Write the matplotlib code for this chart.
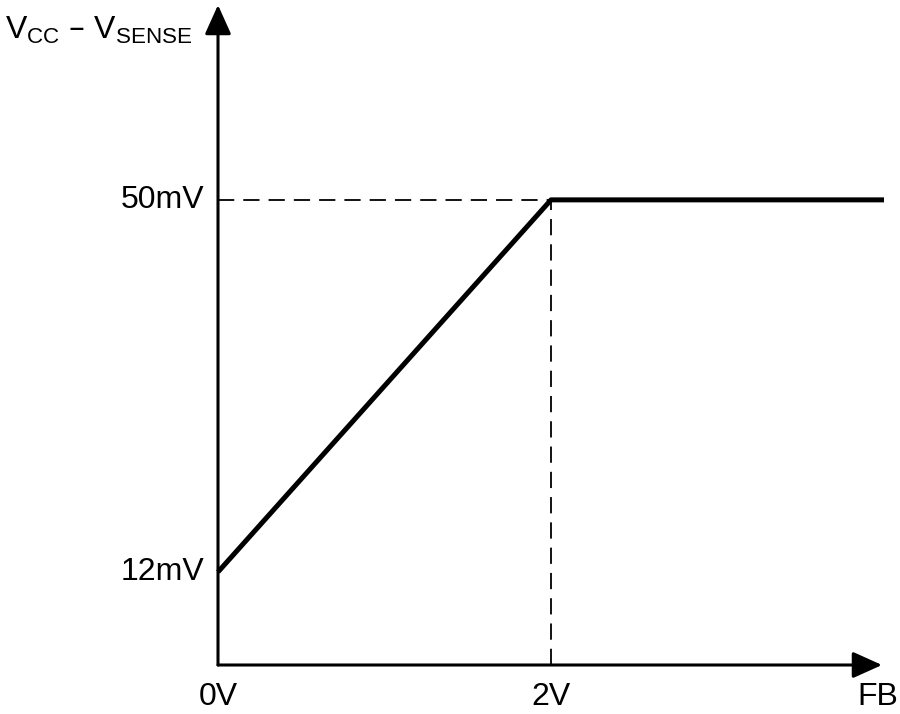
import matplotlib
matplotlib.use('Agg')
import matplotlib.pyplot as plt

plt.rcParams['font.family'] = ['Liberation Sans', 'DejaVu Sans']

# transfer curve (schematic)
fb_volts = [0, 2, 4]
sense_mv = [12, 50, 50]
x_ticks = [0, 2]
x_labels = ['0V', '2V']
y_ticks = [12, 50]
y_labels = ['12mV', '50mV']

fig = plt.figure(figsize=(9, 7.14), dpi=100)
ax = fig.add_axes([218/900, 49/714, 666/900, 660/714])
ax.set_xlim(0, 4)
ax.set_ylim(2.5, 69.9)
ax.axis('off')

# axes with arrow heads
arr = dict(arrowstyle='-|>,head_length=0.6,head_width=0.27', mutation_scale=30,
           color='black', lw=2.2, shrinkA=0, shrinkB=0)
ax.annotate('', xy=(0.997, 0), xytext=(0, 0), xycoords='axes fraction', arrowprops=arr)
ax.annotate('', xy=(0, 1), xytext=(0, 0), xycoords='axes fraction', arrowprops=arr)

# guide lines
ax.plot([0, 2], [50, 50], color='black', lw=1.3, dashes=(9, 5))
ax.plot([2, 2], [2.5, 50], color='black', lw=1.3, dashes=(9, 5))

ax.plot(fb_volts, sense_mv, color='black', lw=3.6, solid_capstyle='butt', clip_on=False)

for xv, lab in zip(x_ticks, x_labels):
    ax.annotate(lab, (xv, 2.5), xytext=(0, -12), textcoords='offset points',
                ha='center', va='top', fontsize=23)
ax.annotate('FB', (0.99, 0), xycoords='axes fraction', xytext=(0, -12),
            textcoords='offset points', ha='center', va='top', fontsize=23)
for yv, lab in zip(y_ticks, y_labels):
    ax.annotate(lab, (0, yv), xytext=(-10, 0), textcoords='offset points',
                ha='right', va='center', fontsize=23)

fig.text(5/900, 1 - 30/714, r'$\mathregular{V_{CC}}$ – $\mathregular{V_{SENSE}}$',
         ha='left', va='center', fontsize=23)

fig.savefig('out.png', dpi=100)
